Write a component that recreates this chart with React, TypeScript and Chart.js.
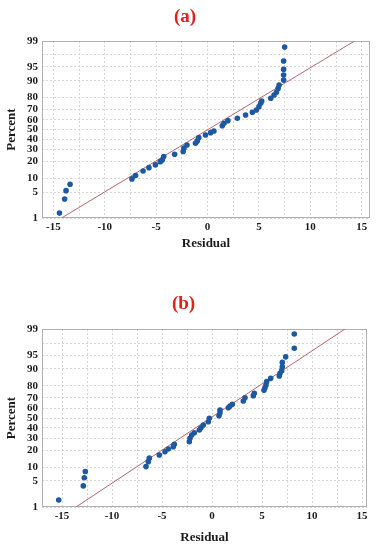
import React, { useEffect, useRef } from 'react';
import { Chart, registerables, LinearScale } from 'chart.js';

// ---------- data ----------
const A_RESIDUAL = [-14.4, -13.9, -13.76, -13.37, -7.35, -7.0, -6.27, -5.7, -5.07, -4.6, -4.4, -4.26, -3.2, -2.37, -2.3, -2.0, -1.17, -1.0, -0.85, -0.2, 0.3, 0.62, 1.43, 1.6, 1.98, 2.9, 3.7, 4.36, 4.75, 5.0, 5.17, 5.27, 6.15, 6.47, 6.7, 6.86, 6.96, 7.4, 7.4, 7.4, 7.4, 7.5];
const A_PERCENT = [1.4, 3.4, 5.4, 7.5, 9.7, 11.3, 13.8, 15.8, 17.6, 19.9, 21.2, 23.9, 25.8, 28.1, 31.2, 34.2, 35.9, 38.2, 41.5, 44.3, 46.7, 48.4, 54, 56.5, 59.2, 61.6, 64.9, 67.5, 69.6, 72.6, 75.5, 77.3, 79.4, 81.8, 83.6, 86, 87.9, 90.3, 92.4, 94.3, 96.4, 98.5];
const A_FIT_X = [-14.2, 14.3];
const A_FIT_Y = [1, 99];

const B_RESIDUAL = [-15.33, -12.87, -12.77, -12.67, -6.6, -6.37, -6.27, -5.27, -4.7, -4.37, -3.87, -3.77, -2.27, -2.2, -2.03, -1.77, -1.27, -1.1, -0.87, -0.37, -0.27, 0.7, 0.8, 0.8, 1.63, 1.8, 2.03, 3.13, 3.3, 4.13, 4.23, 5.2, 5.3, 5.4, 5.47, 5.87, 6.73, 6.8, 6.97, 7.03, 7.03, 7.37, 8.23, 8.23];
const B_PERCENT = [1.6, 3.8, 5.9, 8.1, 10.2, 12.7, 14.7, 16.7, 18.9, 20.9, 22.7, 24.6, 26.8, 29.8, 32.9, 35, 37.7, 40, 42.7, 46.1, 49.7, 52.4, 55.5, 58.3, 60.6, 62.3, 64, 67.1, 70.2, 72, 74.1, 76.5, 78.6, 80.6, 82.9, 85, 86.4, 87.9, 89.2, 91, 92.7, 94.5, 96.6, 98.6];
const B_FIT_X = [-13.6, 13.3];
const B_FIT_Y = [1, 99];

const X_GRID = [-15, -12.5, -10, -7.5, -5, -2.5, 0, 2.5, 5, 7.5, 10, 12.5, 15];
const X_LABELS = [-15, -10, -5, 0, 5, 10, 15];
const Y_GRID = [1, 5, 10, 20, 30, 40, 50, 60, 70, 80, 90, 95, 97.5, 99];
const Y_LABELS = [1, 5, 10, 20, 30, 40, 50, 60, 70, 80, 90, 95, 99];

// ---------- normal probability scale ----------
function normInv(p: number): number {
  const a = [-3.969683028665376e1, 2.209460984245205e2, -2.759285104469687e2, 1.38357751867269e2, -3.066479806614716e1, 2.506628277459239];
  const b = [-5.447609879822406e1, 1.615858368580409e2, -1.556989798598866e2, 6.680131188771972e1, -1.328068155288572e1];
  const c = [-7.784894002430293e-3, -3.223964580411365e-1, -2.400758277161838, -2.549732539343734, 4.374664141464968, 2.938163982698783];
  const d = [7.784695709041462e-3, 3.224671290700398e-1, 2.445134137142996, 3.754408661907416];
  const pl = 0.02425;
  if (p < pl) {
    const q = Math.sqrt(-2 * Math.log(p));
    return (((((c[0] * q + c[1]) * q + c[2]) * q + c[3]) * q + c[4]) * q + c[5]) / ((((d[0] * q + d[1]) * q + d[2]) * q + d[3]) * q + 1);
  }
  if (p <= 1 - pl) {
    const q = p - 0.5;
    const r = q * q;
    return ((((((a[0] * r + a[1]) * r + a[2]) * r + a[3]) * r + a[4]) * r + a[5]) * q) / (((((b[0] * r + b[1]) * r + b[2]) * r + b[3]) * r + b[4]) * r + 1);
  }
  const q = Math.sqrt(-2 * Math.log(1 - p));
  return -(((((c[0] * q + c[1]) * q + c[2]) * q + c[3]) * q + c[4]) * q + c[5]) / ((((d[0] * q + d[1]) * q + d[2]) * q + d[3]) * q + 1);
}

function normCdf(z: number): number {
  const t = 1 / (1 + 0.3275911 * Math.abs(z) / Math.SQRT2);
  const y = 1 - ((((1.061405429 * t - 1.453152027) * t + 1.421413741) * t - 0.284496736) * t + 0.254829592) * t * Math.exp(-(z * z) / 2);
  return z >= 0 ? (1 + y) / 2 : (1 - y) / 2;
}

class ProbitScale extends LinearScale {
  static id = 'probit';
  static defaults = {};
  _zMin = -2.326;
  _zMax = 2.326;
  buildTicks() {
    return Y_GRID.map((v) => ({ value: v }));
  }
  configure() {
    super.configure();
    this._zMin = normInv((this as any).min / 100);
    this._zMax = normInv((this as any).max / 100);
  }
  getPixelForValue(value: number) {
    if (value === null || value === undefined || isNaN(value)) return NaN;
    const z = normInv(value / 100);
    return this.getPixelForDecimal((z - this._zMin) / (this._zMax - this._zMin));
  }
  getValueForPixel(pixel: number) {
    const dec = this.getDecimalForPixel(pixel);
    return 100 * normCdf(this._zMin + dec * (this._zMax - this._zMin));
  }
}

Chart.register(...registerables, ProbitScale as any);

// ---------- styling ----------
const SERIF = "'Liberation Serif', 'Times New Roman', serif";
const BLUE = '#1d58a2';
const FIT = '#b8666a';
const GRID = '#d6d6d6';
const TEXT = '#1c1c1c';

const boxPlugin = {
  id: 'plotBox',
  beforeDatasetsDraw(chart: any) {
    const { ctx, chartArea } = chart;
    const { left, top, right, bottom } = chartArea;
    ctx.save();
    ctx.strokeStyle = '#b0b0b0';
    ctx.lineWidth = 1;
    ctx.strokeRect(Math.round(left) + 0.5, Math.round(top) + 0.5, Math.round(right - left) - 1, Math.round(bottom - top) - 1);
    ctx.restore();
  },
};

type Layout = {
  title: string;
  xMin: number;
  xMax: number;
  titlePadTop: number;
  titlePadBottom: number;
  xAxisHeight: number;
  xTitlePadBottom: number;
  padRight: number;
};

function buildConfig(resid: number[], pct: number[], fitX: number[], fitY: number[], L: Layout): any {
  const tickFont = { family: SERIF, size: 11, weight: 'bold' as const };
  const axisTitleFont = { family: SERIF, size: 13, weight: 'bold' as const };
  return {
    type: 'scatter',
    data: {
      datasets: [
        {
          label: 'Residuals',
          data: resid.map((x, i) => ({ x, y: pct[i] })),
          pointRadius: 2.8,
          pointBackgroundColor: BLUE,
          pointBorderColor: BLUE,
          pointBorderWidth: 0,
        },
        {
          label: 'Fit',
          type: 'line',
          data: fitX.map((x, i) => ({ x, y: fitY[i] })),
          borderColor: FIT,
          borderWidth: 1,
          pointRadius: 0,
          fill: false,
        },
      ],
    },
    options: {
      responsive: false,
      animation: false,
      events: [],
      layout: { padding: { left: 0, right: L.padRight, top: 0, bottom: 0 } },
      plugins: {
        legend: { display: false },
        tooltip: { enabled: false },
        title: {
          display: true,
          text: L.title,
          color: '#e3201c',
          font: { family: SERIF, size: 19, weight: 'bold' },
          padding: { top: L.titlePadTop, bottom: L.titlePadBottom },
        },
      },
      scales: {
        x: {
          type: 'linear',
          min: L.xMin,
          max: L.xMax,
          afterBuildTicks: (s: any) => {
            s.ticks = X_GRID.map((v) => ({ value: v }));
          },
          afterFit: (s: any) => {
            s.height = L.xAxisHeight;
          },
          grid: { color: GRID, lineWidth: 1, drawTicks: false },
          border: { display: false, dash: [2, 2] },
          ticks: {
            autoSkip: false,
            maxRotation: 0,
            padding: 3,
            color: TEXT,
            font: tickFont,
            callback: (v: any) => (X_LABELS.includes(Number(v)) ? String(v) : ''),
          },
          title: {
            display: true,
            text: 'Residual',
            color: TEXT,
            font: axisTitleFont,
            padding: { top: 0, bottom: L.xTitlePadBottom },
          },
        },
        y: {
          type: 'probit',
          position: 'left',
          min: 1,
          max: 99,
          afterFit: (s: any) => {
            s.width = 42;
          },
          grid: { color: GRID, lineWidth: 1, drawTicks: false },
          border: { display: false, dash: [2, 2] },
          ticks: {
            autoSkip: false,
            padding: 4,
            color: TEXT,
            font: tickFont,
            callback: (v: any) => (Y_LABELS.includes(Number(v)) ? String(v) : ''),
          },
          title: {
            display: true,
            text: 'Percent',
            color: TEXT,
            font: axisTitleFont,
            padding: { top: 4, bottom: 0 },
          },
        },
      },
    },
    plugins: [boxPlugin],
  };
}

const LAYOUT_A: Layout = {
  title: '(a)',
  xMin: -16.1,
  xMax: 15.8,
  titlePadTop: 5.6,
  titlePadBottom: 12.6,
  xAxisHeight: 57,
  xTitlePadBottom: 24,
  padRight: 6,
};

const LAYOUT_B: Layout = {
  title: '(b)',
  xMin: -17,
  xMax: 15.5,
  titlePadTop: 18.1,
  titlePadBottom: 13.1,
  xAxisHeight: 43,
  xTitlePadBottom: 4.2,
  padRight: 9,
};

function ProbPlot(props: { resid: number[]; pct: number[]; fitX: number[]; fitY: number[]; layout: Layout }) {
  const ref = useRef<HTMLCanvasElement | null>(null);
  useEffect(() => {
    if (!ref.current) return;
    const chart = new Chart(ref.current, buildConfig(props.resid, props.pct, props.fitX, props.fitY, props.layout));
    return () => chart.destroy();
  }, []);
  return <canvas ref={ref} width={376} height={275} style={{ display: 'block', width: 376, height: 275 }} />;
}

export default function App() {
  return (
    <div style={{ position: 'absolute', left: 0, top: 0, width: 376, height: 550, background: '#fff' }}>
      <ProbPlot resid={A_RESIDUAL} pct={A_PERCENT} fitX={A_FIT_X} fitY={A_FIT_Y} layout={LAYOUT_A} />
      <ProbPlot resid={B_RESIDUAL} pct={B_PERCENT} fitX={B_FIT_X} fitY={B_FIT_Y} layout={LAYOUT_B} />
    </div>
  );
}
